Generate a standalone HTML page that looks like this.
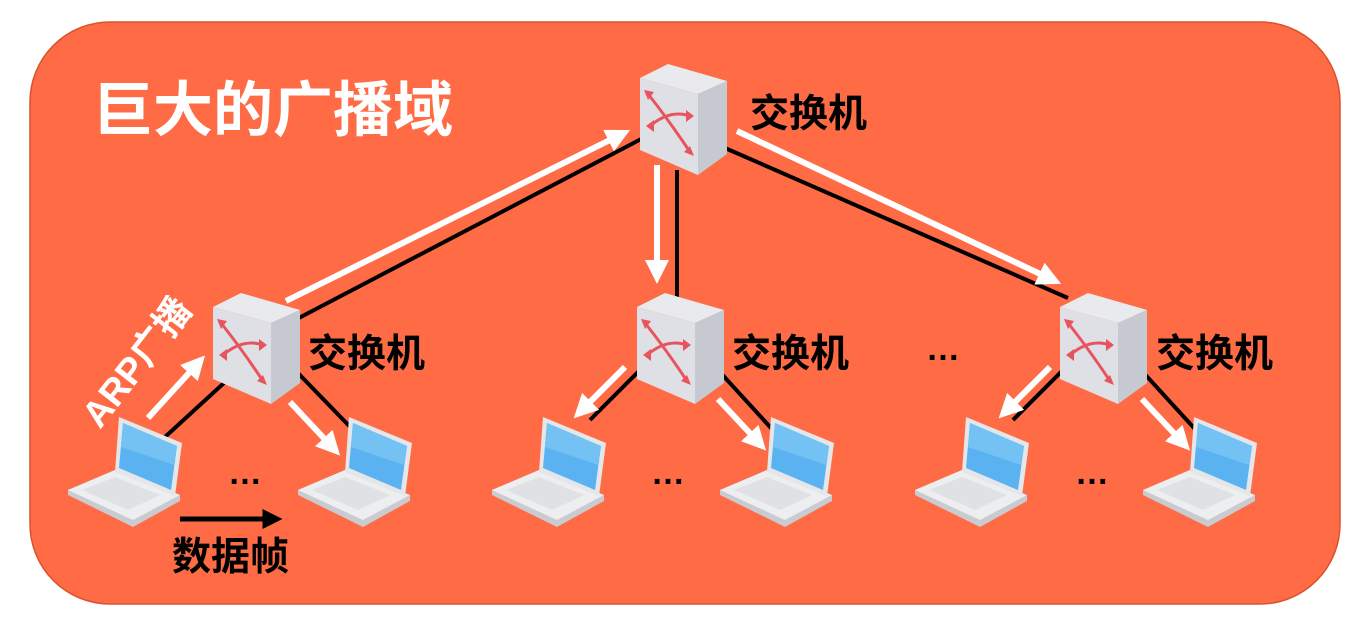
<!DOCTYPE html>
<html><head><meta charset="utf-8"><style>
html,body{margin:0;padding:0;background:#fff;}
svg{display:block;font-family:"Liberation Sans","Noto Sans CJK SC",sans-serif;}
</style></head><body>
<svg width="1370" height="626" viewBox="0 0 1370 626" xmlns="http://www.w3.org/2000/svg">
<defs>
<marker id="wa" markerWidth="4" markerHeight="4" refX="2.5" refY="2" orient="auto" markerUnits="strokeWidth"><path d="M0,0 L4,2 L0,4 z" fill="#fff"/></marker>
<marker id="ba" markerWidth="4" markerHeight="4" refX="2.5" refY="2" orient="auto" markerUnits="strokeWidth"><path d="M0,0 L4,2 L0,4 z" fill="#000"/></marker>
<g id="sw">
<polygon points="0,14 28,0 87,17 58,30" fill="#e9eaee"/>
<polygon points="0,14 58,30 58,111 0,86" fill="#dfe0e5"/>
<polygon points="58,30 87,17 87,90 58,111" fill="#c7c9d0"/>
<g stroke="#e8545e" stroke-width="3" fill="none" stroke-linecap="round">
<path d="M8,30 Q28,55 50,88"/><path d="M10,62 Q30,45 50,52"/>
</g>
<g fill="#e8545e">
<polygon points="4,26 14,28 8,36"/><polygon points="54,92 44,88 50,82"/>
<polygon points="6,62 14,56 14,68"/><polygon points="54,52 46,46 46,58"/>
</g>
</g>
<g id="lt">
<polygon points="0,73 47,53 112,78 112,84 65,110 0,78" fill="#c9cbd0"/>
<polygon points="0,73 47,53 112,78 65,103" fill="#eceef0"/>
<polygon points="14,73 47,60 92,78 60,93" fill="#dfe1e4"/>
<polygon points="51,0 114,26 107,79 47,55" fill="#e4e6e9"/>
<polygon points="55,6 109,29 103,73 51,51" fill="#5ab3f0"/>
<polygon points="55,6 109,29 106,48 53,30" fill="#74c1f4"/>
</g>
</defs>
<rect x="30" y="22" width="1310" height="582" rx="80" fill="#fe6b45" stroke="#d9532f" stroke-width="1.5"/>
<text x="93" y="131" font-size="60" font-weight="bold" fill="#fff">巨大的广播域</text>

<g stroke="#000" stroke-width="4">
<line x1="645" y1="137" x2="295" y2="320"/>
<line x1="677" y1="170" x2="677" y2="300"/>
<line x1="725" y1="148" x2="1068" y2="298"/>
<line x1="165" y1="437" x2="225" y2="382"/>
<line x1="295" y1="370" x2="358" y2="435"/>
<line x1="640" y1="370" x2="590" y2="420"/>
<line x1="718" y1="370" x2="782" y2="440"/>
<line x1="1063" y1="370" x2="1013" y2="420"/>
<line x1="1141" y1="370" x2="1205" y2="440"/>
</g>
<line x1="180" y1="519" x2="275" y2="519" stroke="#000" stroke-width="5" marker-end="url(#ba)"/>
<g stroke="#fff" stroke-width="6">
<line x1="286" y1="301" x2="622" y2="134" marker-end="url(#wa)"/>
<line x1="657" y1="165" x2="657" y2="275" marker-end="url(#wa)"/>
<line x1="737" y1="131" x2="1053" y2="280" marker-end="url(#wa)"/>
<line x1="148" y1="418" x2="199" y2="362" marker-end="url(#wa)"/>
<line x1="290" y1="402" x2="334" y2="449" marker-end="url(#wa)"/>
<line x1="625" y1="367" x2="580" y2="412" marker-end="url(#wa)"/>
<line x1="718" y1="399" x2="760" y2="444" marker-end="url(#wa)"/>
<line x1="1050" y1="367" x2="1005" y2="412" marker-end="url(#wa)"/>
<line x1="1142" y1="399" x2="1184" y2="444" marker-end="url(#wa)"/>
</g>

<use href="#sw" x="640" y="64"/>
<use href="#sw" x="213" y="293"/>
<use href="#sw" x="637" y="293"/>
<use href="#sw" x="1060" y="293"/>

<use href="#lt" x="68" y="417"/>
<use href="#lt" x="298" y="417"/>
<use href="#lt" x="492" y="417"/>
<use href="#lt" x="720" y="417"/>
<use href="#lt" x="915" y="417"/>
<use href="#lt" x="1143" y="417"/>

<g font-size="39" font-weight="bold" fill="#000">
<text x="750" y="127">交换机</text>
<text x="308" y="367">交换机</text>
<text x="732" y="367">交换机</text>
<text x="1156" y="367">交换机</text>
<text x="172" y="570">数据帧</text>
</g>
<g font-size="34" font-weight="bold" fill="#000">
<text x="228" y="484">…</text>
<text x="651" y="484">…</text>
<text x="1075" y="484">…</text>
<text x="926" y="360">…</text>
</g>
<text x="0" y="0" font-size="37" font-weight="bold" fill="#fff" transform="translate(100,430) rotate(-52)">ARP广播</text>
</svg>
</body></html>
